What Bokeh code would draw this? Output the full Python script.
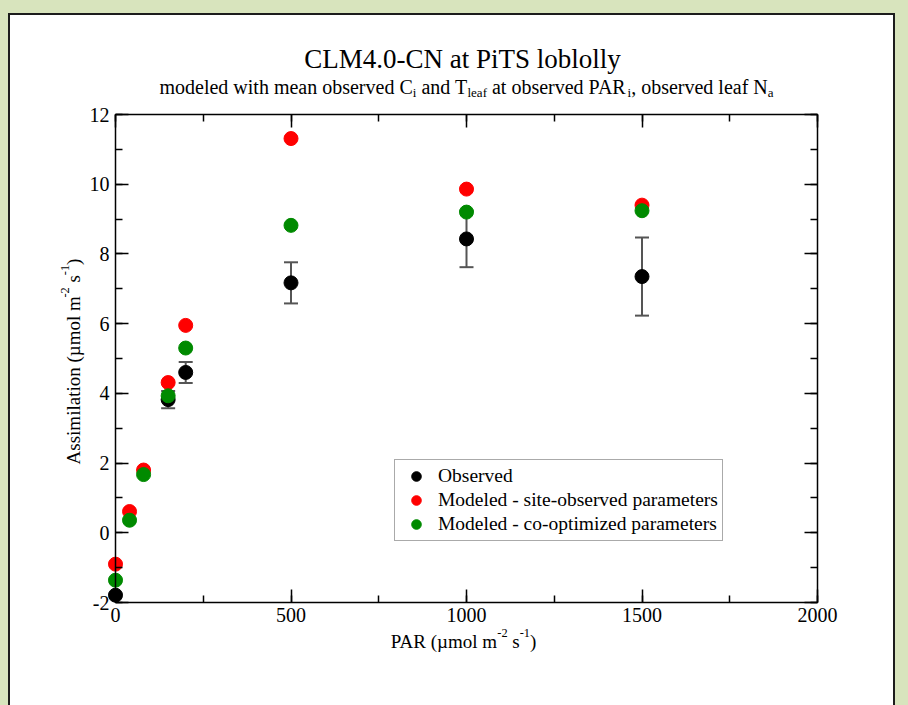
import math
from bokeh.plotting import figure
from bokeh.models import (ColumnDataSource, Whisker, TeeHead, LinearAxis, SingleIntervalTicker,
                          Legend, LegendItem, Label, Range1d, CustomJSTickFormatter)
from bokeh.layouts import column
from bokeh.embed import file_html
from bokeh.resources import INLINE

# ---------------- data ----------------
par = [0, 40, 80, 150, 200, 500, 1000, 1500]
site_observed = [-0.90, 0.61, 1.80, 4.31, 5.95, 11.31, 9.86, 9.40]
co_optimized = [-1.36, 0.36, 1.67, 3.93, 5.30, 8.82, 9.20, 9.24]
obs_par = [0, 150, 200, 500, 1000, 1500]
observed = [-1.79, 3.82, 4.60, 7.17, 8.43, 7.35]
obs_err = [0.0, 0.25, 0.30, 0.59, 0.81, 1.12]

x_start, x_end, x_major = 0, 2000, 500
y_start, y_end, y_major = -2, 12, 2

legend_labels = ["Observed", "Modeled - site-observed parameters", "Modeled - co-optimized parameters"]
title_segs = [("CLM4.0-CN at PiTS loblolly", "n")]
subtitle_segs = [("modeled with mean observed C", "n"), ("i", "sub"), (" and T", "n"), ("leaf", "sub"),
                 (" at observed PAR", "n"), ("i", "sub"), (", observed leaf N", "n"), ("a", "sub")]
xlabel_segs = [("PAR (µmol m", "n"), ("-2", "sup"), (" s", "n"), ("-1", "sup"), (")", "n")]
ylabel_segs = [("Assimilation (µmol m", "n"), ("-2", "sup"), (" s", "n"), ("-1", "sup"), (")", "n")]

# ---------------- style / layout ----------------
FONT = "Liberation Serif"
GREEN_BG = "#d8e4bd"
RED = "#ff0000"
GREEN = "#008a00"
W, H = 883, 690                 # white panel (figure) size
FL, FT, FW, FH = 105, 99, 702, 488   # plot box inside the panel
FB = FT + FH

# the frame covers the whole panel; ranges are widened so that the data box sits at the plot box
xpp = (x_end - x_start) / FW
ypp = (y_end - y_start) / FH
xr = Range1d(x_start - FL * xpp, x_end + (W - FL - FW) * xpp)
yr = Range1d(y_start - (H - FB) * ypp, y_end + FT * ypp)

p = figure(width=W, height=H, x_range=xr, y_range=yr,
           output_backend="svg", toolbar_location=None, title=None,
           x_axis_location=None, y_axis_location=None,
           min_border=0, min_border_left=0, min_border_right=0, min_border_top=0, min_border_bottom=0,
           background_fill_color="white", border_fill_color="white", outline_line_color=None)
p.grid.visible = False


def make_axis(loc, ticker, bounds, labels=True):
    ax = LinearAxis(ticker=ticker, fixed_location=loc, bounds=bounds)
    ax.major_tick_in = 13
    ax.major_tick_out = 0
    ax.minor_tick_in = 7
    ax.minor_tick_out = 0
    ax.major_tick_line_width = 1.5
    ax.minor_tick_line_width = 1.5
    ax.axis_line_width = 1.5
    ax.major_tick_line_color = "black"
    ax.minor_tick_line_color = "black"
    ax.axis_line_color = "black"
    ax.major_label_text_font = FONT
    ax.major_label_text_font_size = "20px"
    ax.major_label_text_color = "black"
    if labels:
        ax.formatter = CustomJSTickFormatter(code="return tick.toString()")
    else:
        ax.formatter = CustomJSTickFormatter(code="return ''")
    return ax


xt = lambda: SingleIntervalTicker(interval=x_major, num_minor_ticks=2)
yt = lambda: SingleIntervalTicker(interval=y_major, num_minor_ticks=2)

bottom_ax = make_axis(y_start, xt(), (x_start, x_end))
bottom_ax.major_label_standoff = 5
p.add_layout(bottom_ax, "below")
left_ax = make_axis(x_start, yt(), (y_start, y_end))
left_ax.major_label_standoff = 6
p.add_layout(left_ax, "left")
p.add_layout(make_axis(y_end, xt(), (x_start, x_end), labels=False), "above")
p.add_layout(make_axis(x_end, yt(), (y_start, y_end), labels=False), "right")

# error bars (under the markers)
wb = [b for b, e in zip(obs_par, obs_err) if e > 0]
wu = [v + e for v, e in zip(observed, obs_err) if e > 0]
wl = [v - e for v, e in zip(observed, obs_err) if e > 0]
wsrc = ColumnDataSource(dict(base=wb, upper=wu, lower=wl))
whisk = Whisker(source=wsrc, base="base", upper="upper", lower="lower", dimension="height",
                line_color="#555555", line_width=2, level="underlay",
                upper_head=TeeHead(size=14, line_color="#555555", line_width=2),
                lower_head=TeeHead(size=14, line_color="#555555", line_width=2))
p.add_layout(whisk)

r_obs = p.scatter(obs_par, observed, size=14, fill_color="black", line_color="black", line_width=1)
r_red = p.scatter(par, site_observed, size=14, fill_color=RED, line_color=RED, line_width=1)
r_grn = p.scatter(par, co_optimized, size=14, fill_color=GREEN, line_color=GREEN, line_width=1)

legend = Legend(items=[LegendItem(label=legend_labels[0], renderers=[r_obs]),
                       LegendItem(label=legend_labels[1], renderers=[r_red]),
                       LegendItem(label=legend_labels[2], renderers=[r_grn])],
                location=(384, 164), glyph_width=34, glyph_height=24, label_height=20, spacing=0,
                padding=4, margin=0, label_standoff=5, border_line_color="#555555",
                border_line_width=1.5, background_fill_color="white", background_fill_alpha=1,
                label_text_font=FONT, label_text_font_size="19.5px", label_text_color="black")
p.add_layout(legend)

# ---------------- rich text helper ----------------
TW = {' ': 250, 'a': 444, 'b': 500, 'c': 444, 'd': 500, 'e': 444, 'f': 333, 'g': 500, 'h': 500,
      'i': 278, 'j': 278, 'k': 500, 'l': 278, 'm': 778, 'n': 500, 'o': 500, 'p': 500, 'q': 500,
      'r': 333, 's': 389, 't': 278, 'u': 500, 'v': 500, 'w': 722, 'x': 500, 'y': 500, 'z': 444,
      'A': 722, 'C': 667, 'L': 611, 'M': 889, 'N': 722, 'P': 556, 'R': 667, 'S': 556, 'T': 611,
      '.': 250, ',': 250, '-': 333, '(': 333, ')': 333, 'µ': 500}
SUB_SCALE = 0.65


def text_w(s, size):
    return sum(TW.get(c, 500) for c in s) / 1000.0 * size


def seg_size(kind, size):
    return size if kind == "n" else size * SUB_SCALE


def rich(segs, size, cx, cy, vertical=False, font=FONT):
    """cx, cy: centre (along text) / baseline position in panel pixels (top-left origin)."""
    widths = [text_w(t, seg_size(k, size)) for t, k in segs]
    total = sum(widths)
    c = 0.0
    for (t, k), w in zip(segs, widths):
        s = seg_size(k, size)
        lead = len(t) - len(t.lstrip(" "))
        body = t.strip(" ")
        c0 = c + text_w(" " * lead, s)
        shift = 0.0
        if k == "sub":
            shift = -0.30 * size
        elif k == "sup":
            shift = 0.45 * size
        if not vertical:
            sx = cx - total / 2 + c0
            sy = cy - shift
            ang = 0.0
        else:
            sx = cx - shift
            sy = cy + total / 2 - c0
            ang = math.pi / 2
        p.add_layout(Label(x=x_start, y=y_start, x_units="data", y_units="data",
                           x_offset=sx - FL, y_offset=FB - sy, angle=ang, text=body,
                           text_font=font, text_font_size=f"{s:g}px", text_color="black",
                           text_align="left", text_baseline="alphabetic"))
        c += w


rich(title_segs, 27, FL + FW / 2 - 4, 43)
rich(subtitle_segs, 20, FL + FW / 2, 71)
rich(xlabel_segs, 19, 453, 626)
rich(ylabel_segs, 19, 63, 346, vertical=True)

inner = column(p, styles={"border-top": "2px solid #1c1c1c", "border-left": "2px solid #1c1c1c",
                          "border-right": "2px solid #1c1c1c", "background-color": "white"})
outer = column(inner, styles={"background-color": GREEN_BG, "padding": "13px 13px 0px 8px"})

open("out.html", "w").write(file_html(outer, INLINE))
